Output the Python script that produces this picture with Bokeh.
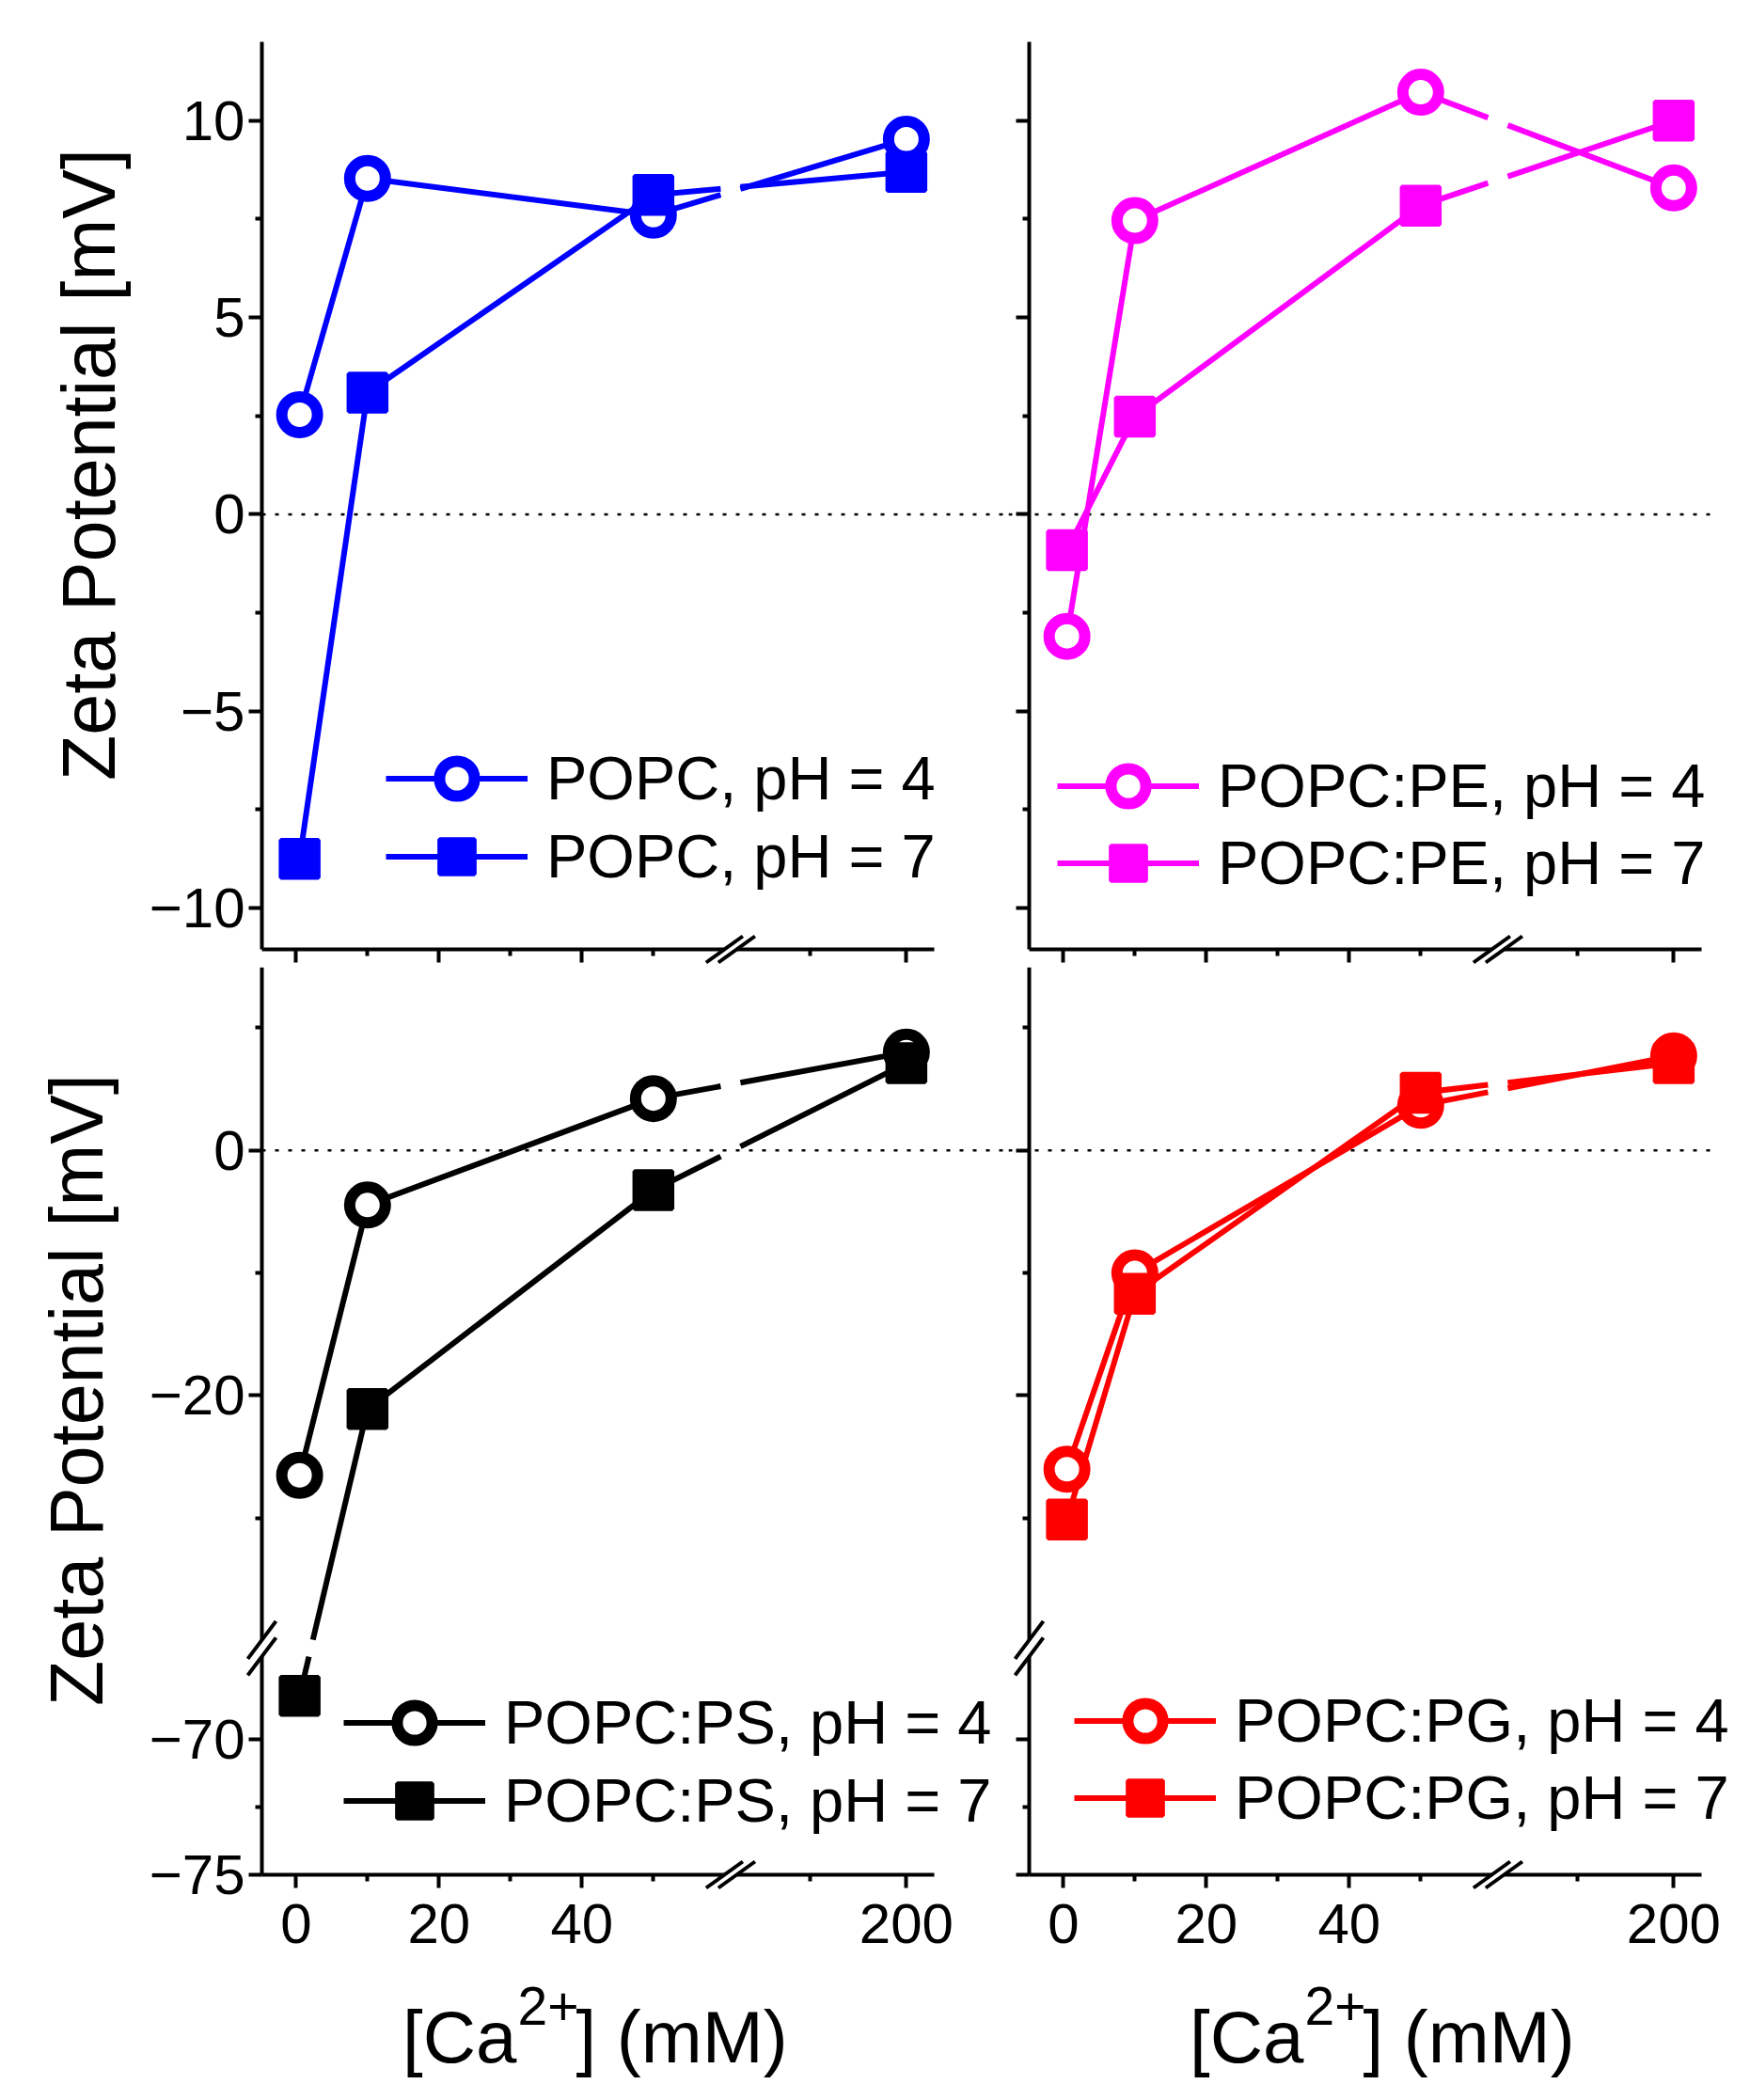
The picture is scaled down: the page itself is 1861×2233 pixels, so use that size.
import math

from bokeh.embed import file_html
from bokeh.layouts import column, row
from bokeh.models import (Arrow, CustomJSTickFormatter, FixedTicker, Label,
                          Legend, LegendItem, LinearAxis, Range1d)
from bokeh.plotting import figure
from bokeh.resources import INLINE

FONT = "Liberation Sans"
MINUS = "\u2212"

# ---- data -----------------------------------------------------------------
ca_mm = [0.5, 10, 50, 200]

popc_ph4 = [2.53, 8.53, 7.60, 9.53]
popc_ph7 = [-8.75, 3.09, 8.11, 8.70]
pe_ph4 = [-3.10, 7.46, 10.72, 8.29]
pe_ph7 = [-0.91, 2.48, 7.84, 10.0]
ps_ph4 = [-26.5, -4.46, 4.22, 8.0]
ps_ph7 = [-68.4, -21.1, -3.25, 7.1]
pg_ph4 = [-26.0, -10.0, 3.67, 7.7]
pg_ph7 = [-30.1, -11.7, 4.7, 7.1]

x_ticks = [0, 20, 40, 200]
x_minor = [10, 30, 50, 150]
top_y_ticks = [-10, -5, 0, 5, 10]
top_y_minor = [-7.5, -2.5, 2.5, 7.5]
bot_y_ticks = [0, -20, -70, -75]
bot_y_minor = [10, -10, -30, -72.5]

# ---- broken axes -----------------------------------------------------------
# x: 0..60 mM linear, a break, then a compressed piece holding 200 mM
X_BREAK = 60.8
X2_AT_200 = 85.4
X2_SCALE = 0.27
X_START, X_END = -4.78, 89.3

# bottom row y: upper piece down to the break, lower piece -66.6..-75 stretched
Y_BREAK = -40.6
Y_LOW_TOP = -66.64
Y_LOW_SCALE = 2.21

FRAME_W, FRAME_H = 715, 965
PX_X = FRAME_W / (X_END - X_START)


def ax_x(c):
    return c if c <= X_BREAK else X2_AT_200 + (c - 200) * X2_SCALE


def ax_y(z):
    return z if z >= Y_BREAK else Y_BREAK - (Y_LOW_TOP - z) * Y_LOW_SCALE


def ident(z):
    return z


def broken_path(xs, ys, y_break, px_y):
    """connect the points, leaving a small gap where a line crosses a break"""
    gx = 10.5 / PX_X
    gy = 9.0 / px_y
    ox, oy = [xs[0]], [ys[0]]
    for x0, y0, x1, y1 in zip(xs, ys, xs[1:], ys[1:]):
        cuts = []
        if x0 < X_BREAK < x1:
            t = (X_BREAK - x0) / (x1 - x0)
            dt = gx / (x1 - x0)
            cuts.append((t - dt, t + dt))
        if y_break is not None and (y0 - y_break) * (y1 - y_break) < 0:
            t = (y_break - y0) / (y1 - y0)
            dt = gy / abs(y1 - y0)
            cuts.append((t - dt, t + dt))
        for a, b in sorted(cuts):
            ox += [x0 + a * (x1 - x0), math.nan, x0 + b * (x1 - x0)]
            oy += [y0 + a * (y1 - y0), math.nan, y0 + b * (y1 - y0)]
        ox.append(x1)
        oy.append(y1)
    return ox, oy


def tick_text(pos, txt):
    return CustomJSTickFormatter(args=dict(pos=pos, txt=txt), code="""
        for (let i = 0; i < pos.length; i++) {
            if (Math.abs(pos[i] - tick) < 1e-6) { return txt[i] }
        }
        return ""
    """)


def make_axis(ticks, minor, fmap, show, loc, bounds, standoff):
    pos = [fmap(t) for t in ticks]
    txt = [str(t).replace("-", MINUS) for t in ticks] if show else [""] * len(ticks)
    ax = LinearAxis(fixed_location=loc, bounds=bounds,
                    ticker=FixedTicker(ticks=pos, minor_ticks=[fmap(t) for t in minor]),
                    formatter=tick_text(pos, txt))
    ax.axis_line_width = 4
    ax.axis_line_color = "black"
    ax.major_tick_line_width = 4
    ax.minor_tick_line_width = 4
    ax.major_tick_line_color = "black"
    ax.minor_tick_line_color = "black"
    ax.major_tick_out = 14
    ax.major_tick_in = 0
    ax.minor_tick_out = 7
    ax.minor_tick_in = 0
    ax.major_label_text_font = FONT
    ax.major_label_text_color = "black"
    ax.major_label_text_font_size = "60px" if show else "1px"
    ax.major_label_standoff = standoff
    return ax


def seg(p, x0, y0, x1, y1, color="black", width=4, dash="solid", level="annotation"):
    p.add_layout(Arrow(end=None, x_start=x0, y_start=y0, x_end=x1, y_end=y1,
                       line_color=color, line_width=width, line_dash=dash,
                       level=level))


def panel(ph4, ph7, color, names, legend_x, legend_rows, left_col, top_row):
    # margins around the plotting area: the whole canvas is the frame, the
    # axes are pinned to the edges of the plotting area
    L, R = (278, 79) if left_col else (22, 44)
    T, B = (44, 19) if top_row else (0, 224)
    fmap = ident if top_row else ax_y
    y0, y1 = (-11.05, 12.0) if top_row else (ax_y(-75), 14.93)
    px_y = FRAME_H / (y1 - y0)

    p = figure(frame_width=L + FRAME_W + R, frame_height=T + FRAME_H + B,
               x_range=Range1d(X_START - L / PX_X, X_END + R / PX_X),
               y_range=Range1d(y0 - B / px_y, y1 + T / px_y),
               x_axis_type=None, y_axis_type=None, title=None,
               output_backend="svg", toolbar_location=None,
               min_border=0, background_fill_color="white",
               border_fill_color="white")
    p.grid.visible = False
    p.outline_line_color = None

    p.add_layout(make_axis(x_ticks, x_minor, ax_x, not top_row, y0,
                           (X_START, X_END), 17), "below")
    if top_row:
        yax = make_axis(top_y_ticks, top_y_minor, ident, left_col, X_START, (y0, y1), 4)
    else:
        yax = make_axis(bot_y_ticks, bot_y_minor, ax_y, left_col, X_START, (y0, y1), 4)
    p.add_layout(yax, "left")

    # dotted zero line, running on past the plotting area as in the original
    dot_from = X_START if left_col else X_START - L / PX_X
    dot_to = X_END + R / PX_X if left_col else 91.8
    seg(p, dot_from, 0, dot_to, 0, width=2.5, dash="4 10", level="underlay")

    xs = [ax_x(c) for c in ca_mm]
    yb = None if top_row else Y_BREAK
    lines = []
    for vals in (ph4, ph7):
        lx, ly = broken_path(xs, [fmap(v) for v in vals], yb, px_y)
        lines.append(p.line(lx, ly, line_color=color, line_width=6))
    sc4 = p.scatter(xs, [fmap(v) for v in ph4], marker="circle", size=38,
                    line_width=12, line_color=color, fill_color="white")
    sc7 = p.scatter(xs, [fmap(v) for v in ph7], marker="square", size=40,
                    line_width=4.5, line_color=color, fill_color=color)

    # one legend per row so the rows sit exactly where they do in the original
    for name, rends, rc in zip(names, ([lines[0], sc4], [lines[1], sc7]), legend_rows):
        p.add_layout(Legend(items=[LegendItem(label=name, renderers=rends)],
                            location=(L + legend_x, B + rc - 46.5),
                            glyph_width=151, glyph_height=93, label_standoff=20,
                            padding=0, margin=0, label_text_font=FONT,
                            label_text_font_size="65px", label_text_color="black",
                            border_line_color=None, background_fill_alpha=0))

    # break marks on the x axis
    gx = 6.5 / PX_X
    seg(p, X_BREAK - gx, y0, X_BREAK + gx, y0, color="white", width=7)
    for c in (X_BREAK - gx, X_BREAK + gx):
        seg(p, c - 19.5 / PX_X, y0 - 14 / px_y, c + 19.5 / PX_X, y0 + 14 / px_y)

    # break marks on the y axis of the bottom row
    if not top_row:
        gy = 8.75 / px_y
        seg(p, X_START, Y_BREAK - gy, X_START, Y_BREAK + gy, color="white", width=7)
        for c in (Y_BREAK - gy, Y_BREAK + gy):
            seg(p, X_START - 15 / PX_X, c - 20 / px_y, X_START + 15 / PX_X, c + 20 / px_y)

    # axis titles
    if left_col:
        p.add_layout(Label(x=L - (184 if top_row else 197), y=B + 515.5,
                           x_units="screen", y_units="screen",
                           text="Zeta Potential [mV]", angle=math.pi / 2,
                           text_align="center", text_baseline="alphabetic",
                           text_font=FONT, text_font_size="79px", text_color="black"))
    if not top_row:
        bx = L + (271 if left_col else 292)
        common = dict(x_units="screen", y_units="screen", text_font=FONT,
                      text_color="black", text_baseline="alphabetic")
        p.add_layout(Label(x=bx, y=B - 172, text="[Ca", text_align="right",
                           text_font_size="78px", **common))
        p.add_layout(Label(x=bx + 1, y=B - 139, text="2+", text_align="left",
                           text_font_size="57px", **common))
        p.add_layout(Label(x=bx + 63, y=B - 172, text="] (mM)", text_align="left",
                           text_font_size="78px", **common))
    return p


p1 = panel(popc_ph4, popc_ph7, "#0000FF", ["POPC, pH = 4", "POPC, pH = 7"],
           132, (181.2, 98.7), True, True)
p2 = panel(pe_ph4, pe_ph7, "#FF00FF", ["POPC:PE, pH = 4", "POPC:PE, pH = 7"],
           30, (173.3, 91.6), False, True)
p3 = panel(ps_ph4, ps_ph7, "#000000", ["POPC:PS, pH = 4", "POPC:PS, pH = 7"],
           87, (161.3, 78.8), True, False)
p4 = panel(pg_ph4, pg_ph7, "#FF0000", ["POPC:PG, pH = 4", "POPC:PG, pH = 7"],
           48, (163.7, 81.3), False, False)

layout = column(row(p1, p2, spacing=0), row(p3, p4, spacing=0), spacing=0)

with open("out.html", "w") as f:
    f.write(file_html(layout, INLINE))
